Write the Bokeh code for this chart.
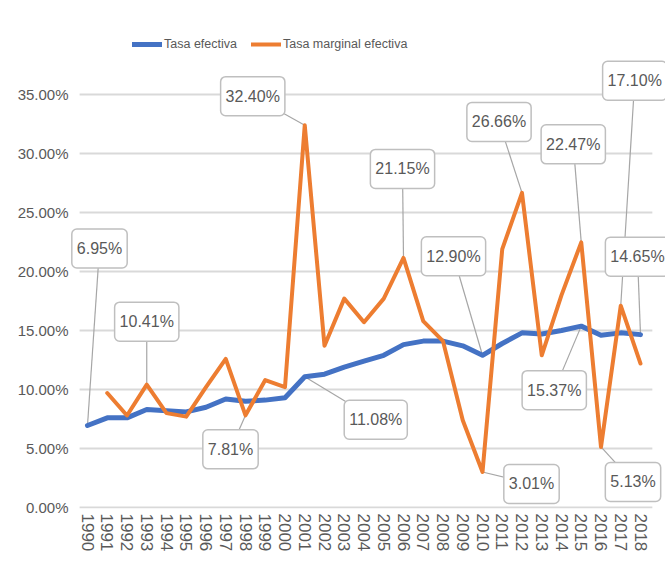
from bokeh.plotting import figure
from bokeh.models import FixedTicker, PrintfTickFormatter, Label, Legend, LegendItem, Range1d
from bokeh.embed import file_html
from bokeh.resources import INLINE

# ---------------- data ----------------
years = list(range(1990, 2019))
tasa_efectiva = [6.95, 7.6, 7.6, 8.3, 8.2, 8.1, 8.5, 9.2, 9.0, 9.1, 9.3, 11.08, 11.3,
                 11.9, 12.4, 12.9, 13.8, 14.1, 14.1, 13.7, 12.90, 13.9, 14.8, 14.7,
                 15.0, 15.37, 14.6, 14.8, 14.65]
marginal_years = list(range(1991, 2019))
tasa_marginal = [9.7, 7.8, 10.41, 8.0, 7.7, 10.2, 12.6, 7.81, 10.8, 10.2, 32.40, 13.7,
                 17.7, 15.7, 17.7, 21.15, 15.8, 14.1, 7.4, 3.01, 21.9, 26.66, 12.9,
                 18.0, 22.47, 5.13, 17.10, 12.2]
y_ticks = [0, 5, 10, 15, 20, 25, 30, 35]
series_names = ["Tasa efectiva", "Tasa marginal efectiva"]

# annotated points: (year, series index)
ann_points = [(1990, 0), (1993, 1), (1998, 1), (2001, 1), (2001, 0), (2006, 1),
              (2010, 0), (2010, 1), (2012, 1), (2015, 1), (2015, 0), (2016, 1),
              (2017, 1), (2018, 0)]
# callout box offsets from the point, in pixels (dx right, dy up)
ann_offsets = [(12, 177), (0, 63), (-15, -34), (-52, 29), (71, -43), (-1, 89),
               (-29, 99), (49, -12), (-23, 71), (-8, 98), (-27, -64), (32, -35),
               (14, 225), (-3, 78)]

# ---------------- layout ----------------
PXY = 19.75          # pixels per year
PXV = 11.8           # pixels per percentage point
X0 = 1990 - 18 / PXY
X1 = 2018 + 25 / PXY
GX0, GX1 = 1989.6, 2018.6   # extent of the plot area's grid
Y0 = -1 / PXV
Y1 = 477 / PXV
FW = round((X1 - X0) * PXY)
FH = round((Y1 - Y0) * PXV)

BLUE = "#4472C4"
ORANGE = "#ED7D31"
GRID = "#D9D9D9"
TEXT = "#595959"
FONT = "Liberation Sans"

p = figure(frame_width=FW, frame_height=FH, output_backend="svg", toolbar_location=None,
           x_range=Range1d(X0, X1), y_range=Range1d(Y0, Y1),
           min_border_left=69, min_border_right=0, min_border_top=30, min_border_bottom=71)
p.outline_line_color = None
p.background_fill_color = "white"
p.border_fill_color = "white"

# horizontal gridlines limited to the plot area
p.segment(x0=[GX0] * len(y_ticks), x1=[GX1] * len(y_ticks), y0=y_ticks, y1=y_ticks,
          line_color=GRID, line_width=2)

def value_of(year, s):
    if s == 0:
        return tasa_efectiva[years.index(year)]
    return tasa_marginal[marginal_years.index(year)]

# leader lines (drawn first, under the series)
lx0, ly0, lx1, ly1 = [], [], [], []
for (yr, s), (dx, dy) in zip(ann_points, ann_offsets):
    v = value_of(yr, s)
    lx0.append(yr)
    ly0.append(v)
    lx1.append(yr + dx / PXY)
    ly1.append(v + dy / PXV)
p.segment(x0=lx0, y0=ly0, x1=lx1, y1=ly1, line_color="#A6A6A6", line_width=1.2)

r1 = p.line(years, tasa_efectiva, line_color=BLUE, line_width=5, line_join="round", line_cap="round")
r2 = p.line(marginal_years, tasa_marginal, line_color=ORANGE, line_width=4, line_join="round", line_cap="round")

for (yr, s), x, y in zip(ann_points, lx1, ly1):
    v = value_of(yr, s)
    p.add_layout(Label(x=x, y=y, text=f"{v:.2f}%", text_align="center", text_baseline="middle",
                       text_font=FONT, text_font_size="16px", text_color=TEXT,
                       background_fill_color="white", border_line_color="#BFBFBF",
                       border_line_width=1.5, border_radius=5,
                       padding=dict(left=5, right=5, top=11, bottom=11)))

# axes
p.yaxis.ticker = FixedTicker(ticks=y_ticks)
p.yaxis.formatter = PrintfTickFormatter(format="%.2f%%")
p.yaxis.axis_line_color = None
p.yaxis.major_tick_line_color = None
p.yaxis.minor_tick_line_color = None
p.yaxis.major_tick_out = 0
p.yaxis.major_label_standoff = 1
p.yaxis.major_label_text_font = FONT
p.yaxis.major_label_text_font_size = "15px"
p.yaxis.major_label_text_color = TEXT

p.xaxis.ticker = FixedTicker(ticks=years)
p.xaxis.major_label_overrides = {y: str(y) for y in years}
p.xaxis.major_label_orientation = "vertical"
p.xaxis.axis_line_color = None
p.xaxis.major_tick_line_color = None
p.xaxis.minor_tick_line_color = None
p.xaxis.major_tick_out = 0
p.xaxis.major_label_standoff = 5
p.xaxis.major_label_text_font = FONT
p.xaxis.major_label_text_font_size = "17px"
p.xaxis.major_label_text_color = TEXT

p.xgrid.visible = False
p.ygrid.visible = False

legend = Legend(items=[LegendItem(label=series_names[0], renderers=[r1]),
                       LegendItem(label=series_names[1], renderers=[r2])],
                orientation="horizontal", location=(63, 454),
                padding=0, margin=0, spacing=14, label_standoff=2,
                glyph_width=30, glyph_height=20, label_height=20,
                border_line_color=None, background_fill_alpha=0,
                label_text_font=FONT, label_text_font_size="12.5px",
                label_text_color=TEXT)
p.add_layout(legend)

open("out.html", "w").write(file_html(p, INLINE))
